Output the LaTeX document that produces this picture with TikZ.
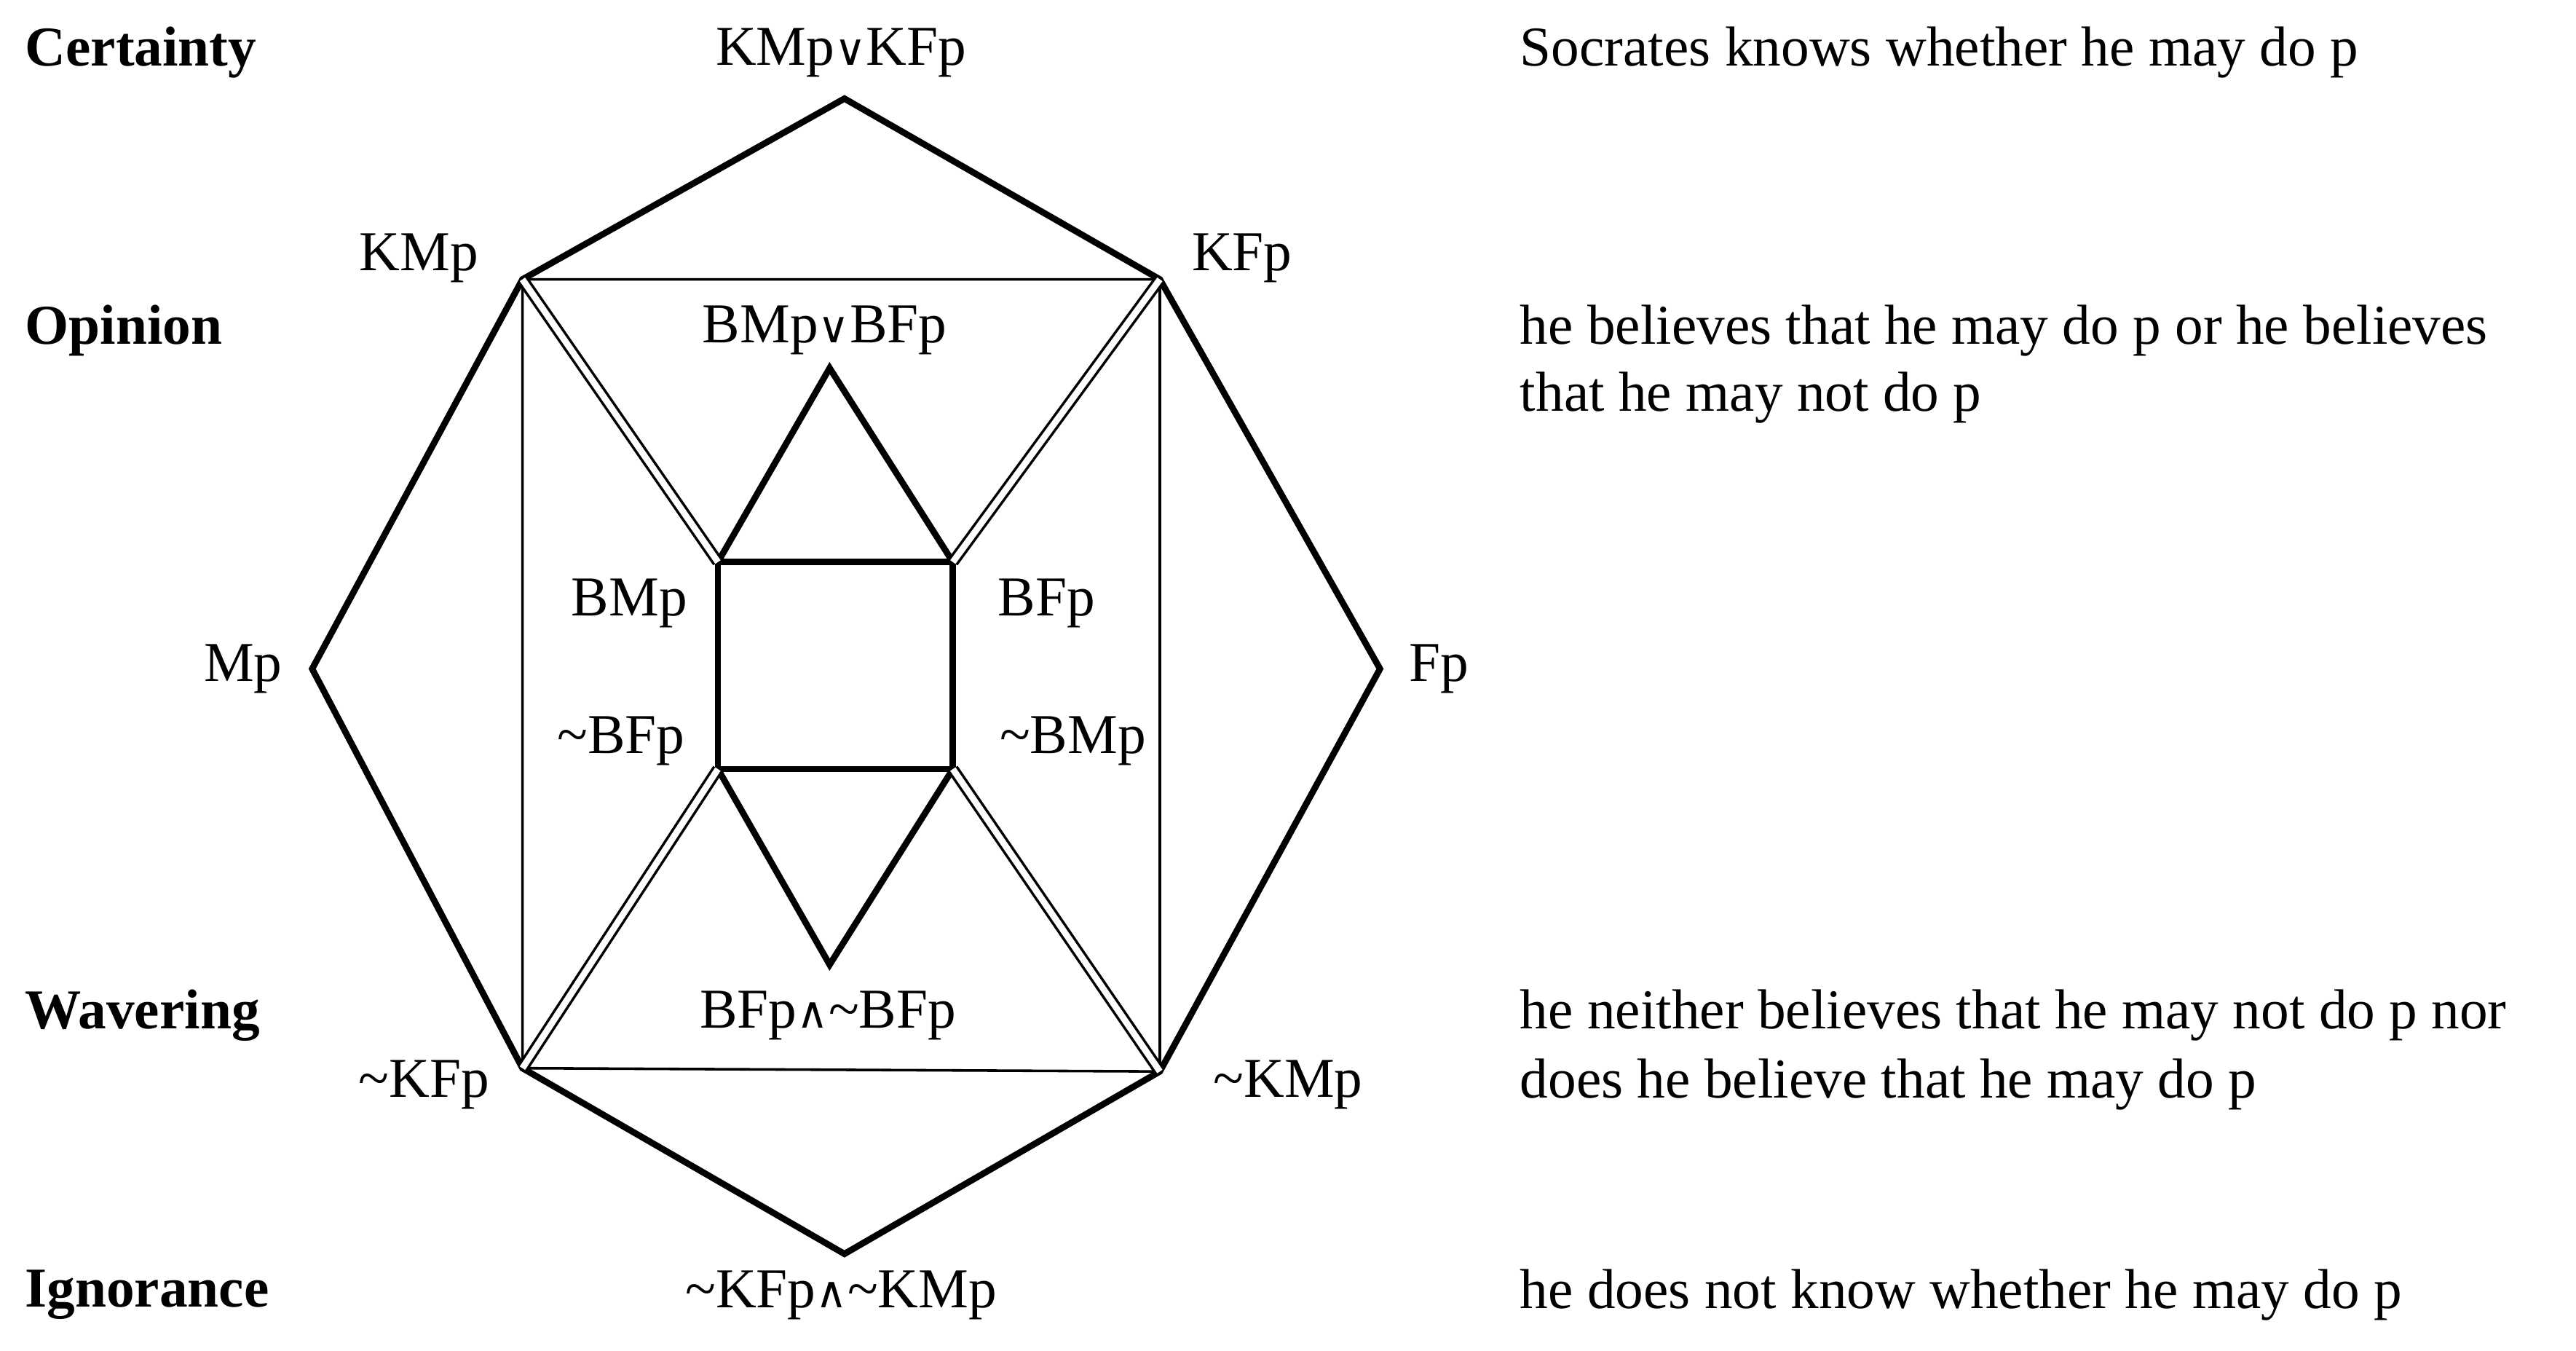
\documentclass[tikz,border=0pt]{standalone}
\usepackage{fontspec}
\setmainfont{Liberation Serif}
\newfontfamily\symf{DejaVu Serif}
\newcommand{\myor}{{\symf\fontsize{15}{18}\selectfont ∨}}
\newcommand{\myand}{{\symf\fontsize{15}{18}\selectfont ∧}}
\begin{document}
\begin{tikzpicture}[x=0.02cm,y=-0.02cm,
  thick line/.style={line width=2.2pt},
  thin line/.style={line width=0.9pt},
  dbl/.style={double distance=2.2pt,line width=0.9pt},
  lab/.style={font=\fontsize{19.5}{23}\selectfont,inner sep=0pt},
  lft/.style={lab,anchor=west},
  cat/.style={lab,anchor=west,font=\fontsize{19.5}{23}\selectfont\bfseries}]
\useasboundingbox (0,0) rectangle (1568,822);
\coordinate (T) at (514,60);
\coordinate (KM) at (318,170);
\coordinate (KF) at (706,170);
\coordinate (M) at (190,407);
\coordinate (F) at (840,407);
\coordinate (NKF) at (318,650);
\coordinate (NKM) at (706,652);
\coordinate (B) at (514,763);
\coordinate (a) at (437,342);
\coordinate (b) at (580,342);
\coordinate (c) at (580,468);
\coordinate (d) at (437,468);
\coordinate (ta) at (505,224);
\coordinate (ba) at (505,587);
\draw[thick line] (KM)--(T)--(KF)--(F)--(NKM)--(B)--(NKF)--(M)--cycle;
\draw[thin line] (KM)--(KF)--(NKM)--(NKF)--cycle;
\draw[thick line] (a)--(b)--(c)--(d)--cycle;
\draw[thick line] (a)--(ta)--(b);
\draw[thick line] (d)--(ba)--(c);
\draw[dbl] (KM)--(a);
\draw[dbl] (KF)--(b);
\draw[dbl] (NKM)--(c);
\draw[dbl] (NKF)--(d);
\node[lab] (l1) at (512,32) {KMp\myor KFp};
\node[lab] (l2) at (255,157) {KMp};
\node[lab] (l3) at (756,157) {KFp};
\node[lab] (l4) at (502,201) {BMp\myor BFp};
\node[lab] (l5) at (383,367) {BMp};
\node[lab] (l6) at (637,367) {BFp};
\node[lab] (l7) at (378,451) {\char`~BFp};
\node[lab] (l8) at (653,451) {\char`~BMp};
\node[lab] (l9) at (148,407) {Mp};
\node[lab] (l10) at (876,407) {Fp};
\node[lab] (l11) at (504,618) {BFp\myand\char`~BFp};
\node[lab] (l12) at (258,660) {\char`~KFp};
\node[lab] (l13) at (784,660) {\char`~KMp};
\node[lab] (l14) at (512,788) {\char`~KFp\myand\char`~KMp};
\node[cat] (c1) at (15,32) {Certainty};
\node[cat] (c2) at (15,201) {Opinion};
\node[cat] (c3) at (15,618) {Wavering};
\node[cat] (c4) at (15,788) {Ignorance};
\node[lft] (r1) at (925,32) {Socrates knows whether he may do p};
\node[lft] (r2) at (925,201) {he believes that he may do p or he believes};
\node[lft] (r3) at (925,242) {that he may not do p};
\node[lft] (r4) at (925,618) {he neither believes that he may not do p nor};
\node[lft] (r5) at (925,660) {does he believe that he may do p};
\node[lft] (r6) at (925,788) {he does not know whether he may do p};
\end{tikzpicture}
\end{document}
